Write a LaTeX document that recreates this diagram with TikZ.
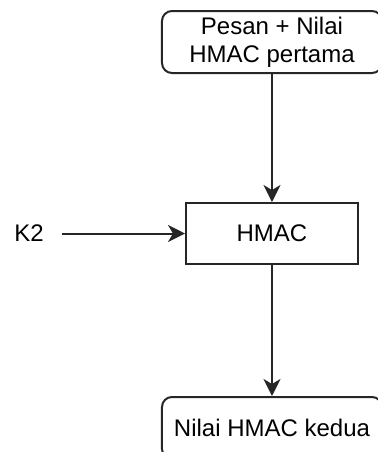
\documentclass[tikz,border=0pt]{standalone}
\usepackage{fontspec}
\setmainfont{Liberation Sans}
\usetikzlibrary{arrows.meta}
\begin{document}
\begin{tikzpicture}
[x=0.5pt,y=-0.5pt,font=\fontsize{12}{14}\selectfont,
 box/.style={draw=black!85,line width=1pt,minimum width=110pt,minimum height=31pt,inner sep=0pt,align=center},
 rbox/.style={box,rounded corners=5pt},
 arr/.style={-{Stealth[length=8.5pt,width=8.5pt,inset=2.5pt]},line width=1pt,draw=black!85}]
\useasboundingbox (0,0) rectangle (377,452);
\path (272,42) node (msg) [rbox] {Pesan + Nilai\\HMAC pertama}
(272,233.5) node (hmac) [box,minimum width=86pt,minimum height=30.5pt] {HMAC}
(272,428) node (out) [rbox] {Nilai HMAC kedua}
(29,233.5) node (k2) [inner xsep=8.75pt,inner ysep=2pt] {K2};
\draw [arr] (msg) -- (hmac);
\draw [arr] (k2) -- (hmac);
\draw [arr] (hmac) -- (out);
\end{tikzpicture}
\end{document}
